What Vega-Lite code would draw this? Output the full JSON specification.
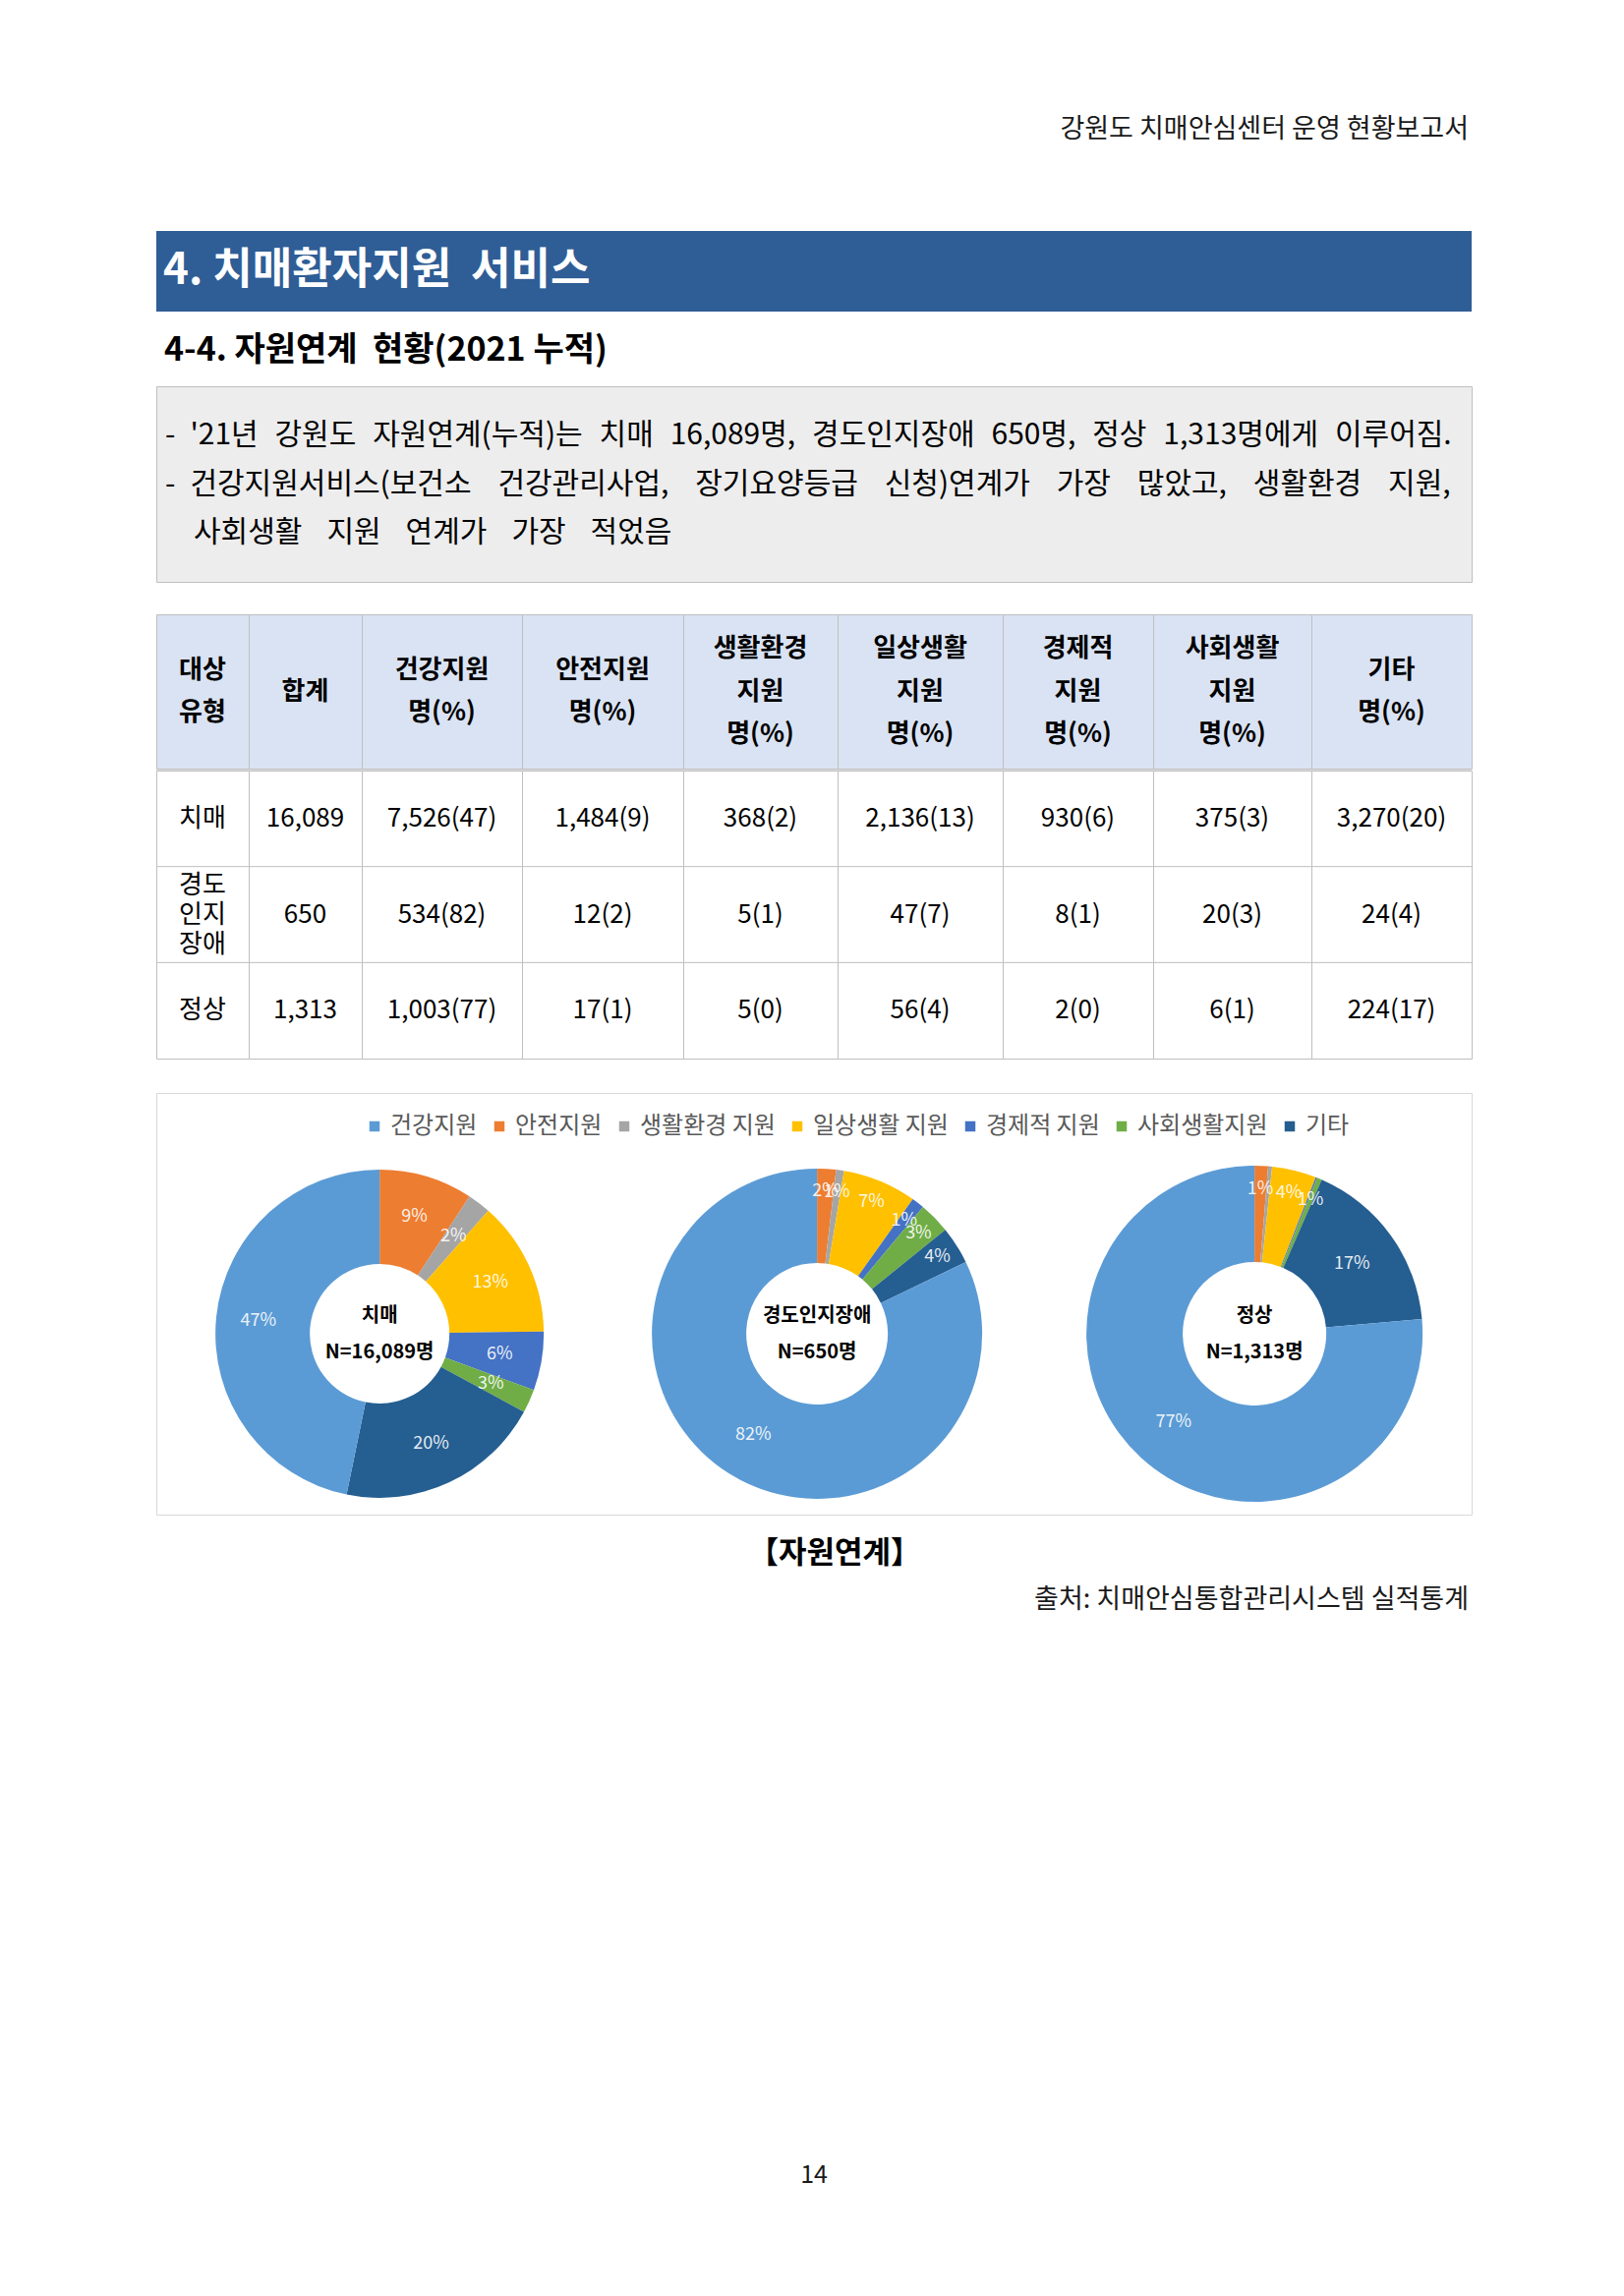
{
  "$schema": "https://vega.github.io/schema/vega-lite/v6.json",
  "background": "white",
  "padding": {"left": 158, "top": 0, "right": 0, "bottom": 96},
  "spacing": 0,
  "resolve": {"scale": {"color": "independent"}, "legend": {"color": "independent"}},
  "config": {
    "view": {"stroke": null},
    "font": "Noto Sans CJK KR",
    "text": {"font": "Noto Sans CJK KR", "color": "#000000"},
    "concat": {"spacing": 0}
  },
  "datasets": {
    "tbl": [
      {"type": "치매", "label": "치매", "total": "16,089", "health": "7,526(47)", "safety": "1,484(9)", "env": "368(2)", "daily": "2,136(13)", "econ": "930(6)", "social": "375(3)", "etc": "3,270(20)"},
      {"type": "경도인지장애", "label": "경도\n인지\n장애", "total": "650", "health": "534(82)", "safety": "12(2)", "env": "5(1)", "daily": "47(7)", "econ": "8(1)", "social": "20(3)", "etc": "24(4)"},
      {"type": "정상", "label": "정상", "total": "1,313", "health": "1,003(77)", "safety": "17(1)", "env": "5(0)", "daily": "56(4)", "econ": "2(0)", "social": "6(1)", "etc": "224(17)"}
    ],
    "pies": [
      {"chart": "치매", "item": "안전지원", "n": 1484, "ord": 1, "label": "9%"},
      {"chart": "치매", "item": "생활환경 지원", "n": 368, "ord": 2, "label": "2%"},
      {"chart": "치매", "item": "일상생활 지원", "n": 2136, "ord": 3, "label": "13%"},
      {"chart": "치매", "item": "경제적 지원", "n": 930, "ord": 4, "label": "6%"},
      {"chart": "치매", "item": "사회생활지원", "n": 375, "ord": 5, "label": "3%"},
      {"chart": "치매", "item": "기타", "n": 3270, "ord": 6, "label": "20%"},
      {"chart": "치매", "item": "건강지원", "n": 7526, "ord": 7, "label": "47%"},
      {"chart": "경도인지장애", "item": "안전지원", "n": 12, "ord": 1, "label": "2%"},
      {"chart": "경도인지장애", "item": "생활환경 지원", "n": 5, "ord": 2, "label": "1%"},
      {"chart": "경도인지장애", "item": "일상생활 지원", "n": 47, "ord": 3, "label": "7%"},
      {"chart": "경도인지장애", "item": "경제적 지원", "n": 8, "ord": 4, "label": "1%"},
      {"chart": "경도인지장애", "item": "사회생활지원", "n": 20, "ord": 5, "label": "3%"},
      {"chart": "경도인지장애", "item": "기타", "n": 24, "ord": 6, "label": "4%"},
      {"chart": "경도인지장애", "item": "건강지원", "n": 534, "ord": 7, "label": "82%"},
      {"chart": "정상", "item": "안전지원", "n": 17, "ord": 1, "label": "1%"},
      {"chart": "정상", "item": "생활환경 지원", "n": 5, "ord": 2, "label": ""},
      {"chart": "정상", "item": "일상생활 지원", "n": 56, "ord": 3, "label": "4%"},
      {"chart": "정상", "item": "경제적 지원", "n": 2, "ord": 4, "label": ""},
      {"chart": "정상", "item": "사회생활지원", "n": 6, "ord": 5, "label": "1%"},
      {"chart": "정상", "item": "기타", "n": 224, "ord": 6, "label": "17%"},
      {"chart": "정상", "item": "건강지원", "n": 1003, "ord": 7, "label": "77%"}
    ]
  },
  "vconcat": [
    {
      "width": 1338, "height": 235,
      "data": {"values": [{"t": "강원도 치매안심센터 운영 현황보고서"}]},
      "mark": {"type": "text", "align": "right", "fontSize": 27, "color": "#1a1a1a", "dx": -3, "dy": 14},
      "encoding": {"x": {"value": "width"}, "text": {"field": "t"}}
    },
    {
      "width": 1338, "height": 82,
      "view": {"fill": "#2F5D96", "stroke": null},
      "data": {"values": [{"t": "4. 치매환자지원\u00a0 서비스"}]},
      "mark": {"type": "text", "align": "left", "fontSize": 44, "fontWeight": "bold", "color": "#FFFFFF", "dx": 7},
      "encoding": {"x": {"value": 0}, "text": {"field": "t"}}
    },
    {
      "width": 1338, "height": 75,
      "data": {"values": [{"t": "4-4. 자원연계\u00a0 현황(2021 누적)"}]},
      "mark": {"type": "text", "align": "left", "fontSize": 34, "fontWeight": "bold", "color": "#000000", "dx": 8, "dy": 2},
      "encoding": {"x": {"value": 0}, "text": {"field": "t"}}
    },
    {
      "width": 1338, "height": 199,
      "view": {"fill": "#EDEDED", "stroke": "#BFBFBF"},
      "data": {"values": [
        {"line": 1, "t": "-\u2002'21년\u2002\u200A강원도\u2002\u200A자원연계(누적)는\u2002\u200A치매\u2002\u200A16,089명,\u2002\u200A경도인지장애\u2002\u200A650명,\u2002\u200A정상\u2002\u200A1,313명에게\u2002\u200A이루어짐."},
        {"line": 2, "t": "-\u2002건강지원서비스(보건소\u2002\u2004\u200A건강관리사업,\u2002\u2004\u200A장기요양등급\u2002\u2004\u200A신청)연계가\u2002\u2004\u200A가장\u2002\u2004\u200A많았고,\u2002\u2004\u200A생활환경\u2002\u2004\u200A지원,"},
        {"line": 3, "t": "사회생활\u2002\u2004지원\u2002\u2004연계가\u2002\u2004가장\u2002\u2004적었음"}
      ]},
      "layer": [
        {
          "transform": [{"filter": "datum.line < 3"}],
          "mark": {"type": "text", "align": "left", "fontSize": 30, "color": "#000000", "dx": 9},
          "encoding": {
            "x": {"value": 0},
            "y": {"field": "line", "type": "ordinal", "scale": {"type": "point", "padding": 1.01}, "axis": null},
            "text": {"field": "t"}
          }
        },
        {
          "transform": [{"filter": "datum.line === 3"}],
          "mark": {"type": "text", "align": "left", "fontSize": 30, "color": "#000000", "dx": 38},
          "encoding": {
            "x": {"value": 0},
            "y": {"field": "line", "type": "ordinal", "scale": {"type": "point", "padding": 1.01}, "axis": null},
            "text": {"field": "t"}
          }
        }
      ]
    },
    {"width": 1338, "height": 31, "data": {"values": []}, "mark": "point"},
    {
      "hconcat": [
        {"width": 94, "height": 157, "view": {"fill": "#DAE3F3", "stroke": "#BFBFBF"}, "data": {"values": [{"h": "대상\n유형"}]}, "mark": {"type": "text", "fontSize": 26, "fontWeight": "bold", "lineBreak": "\n", "lineHeight": 43, "dy": -21.5}, "encoding": {"text": {"field": "h"}}},
        {"width": 115, "height": 157, "view": {"fill": "#DAE3F3", "stroke": "#BFBFBF"}, "data": {"values": [{"h": "합계"}]}, "mark": {"type": "text", "fontSize": 26, "fontWeight": "bold"}, "encoding": {"text": {"field": "h"}}},
        {"width": 163, "height": 157, "view": {"fill": "#DAE3F3", "stroke": "#BFBFBF"}, "data": {"values": [{"h": "건강지원\n명(%)"}]}, "mark": {"type": "text", "fontSize": 26, "fontWeight": "bold", "lineBreak": "\n", "lineHeight": 43, "dy": -21.5}, "encoding": {"text": {"field": "h"}}},
        {"width": 164, "height": 157, "view": {"fill": "#DAE3F3", "stroke": "#BFBFBF"}, "data": {"values": [{"h": "안전지원\n명(%)"}]}, "mark": {"type": "text", "fontSize": 26, "fontWeight": "bold", "lineBreak": "\n", "lineHeight": 43, "dy": -21.5}, "encoding": {"text": {"field": "h"}}},
        {"width": 157, "height": 157, "view": {"fill": "#DAE3F3", "stroke": "#BFBFBF"}, "data": {"values": [{"h": "생활환경\n지원\n명(%)"}]}, "mark": {"type": "text", "fontSize": 26, "fontWeight": "bold", "lineBreak": "\n", "lineHeight": 43.5, "dy": -43.5}, "encoding": {"text": {"field": "h"}}},
        {"width": 168, "height": 157, "view": {"fill": "#DAE3F3", "stroke": "#BFBFBF"}, "data": {"values": [{"h": "일상생활\n지원\n명(%)"}]}, "mark": {"type": "text", "fontSize": 26, "fontWeight": "bold", "lineBreak": "\n", "lineHeight": 43.5, "dy": -43.5}, "encoding": {"text": {"field": "h"}}},
        {"width": 153, "height": 157, "view": {"fill": "#DAE3F3", "stroke": "#BFBFBF"}, "data": {"values": [{"h": "경제적\n지원\n명(%)"}]}, "mark": {"type": "text", "fontSize": 26, "fontWeight": "bold", "lineBreak": "\n", "lineHeight": 43.5, "dy": -43.5}, "encoding": {"text": {"field": "h"}}},
        {"width": 161, "height": 157, "view": {"fill": "#DAE3F3", "stroke": "#BFBFBF"}, "data": {"values": [{"h": "사회생활\n지원\n명(%)"}]}, "mark": {"type": "text", "fontSize": 26, "fontWeight": "bold", "lineBreak": "\n", "lineHeight": 43.5, "dy": -43.5}, "encoding": {"text": {"field": "h"}}},
        {"width": 163, "height": 157, "view": {"fill": "#DAE3F3", "stroke": "#BFBFBF"}, "data": {"values": [{"h": "기타\n명(%)"}]}, "mark": {"type": "text", "fontSize": 26, "fontWeight": "bold", "lineBreak": "\n", "lineHeight": 43, "dy": -21.5}, "encoding": {"text": {"field": "h"}}}
      ],
      "spacing": 0, "bounds": "flush"
    },
    {
      "hconcat": [
        {"width": 94, "height": 293, "view": {"fill": "white", "stroke": "#BFBFBF"}, "data": {"name": "tbl"}, "layer": [
          {"mark": {"type": "rule", "color": "#BFBFBF"}, "encoding": {"y": {"field": "type", "type": "nominal", "bandPosition": 0, "scale": {"type": "band", "domain": ["치매", "경도인지장애", "정상"], "padding": 0}, "axis": null}}},
          {"mark": {"type": "text", "fontSize": 26, "lineBreak": "\n", "lineHeight": 30, "dy": {"expr": "datum.type === '경도인지장애' ? -30 : 0"}}, "encoding": {"y": {"field": "type", "type": "nominal", "scale": {"type": "band", "domain": ["치매", "경도인지장애", "정상"], "padding": 0}, "axis": null}, "text": {"field": "label"}}}
        ]},
        {"width": 115, "height": 293, "view": {"fill": "white", "stroke": "#BFBFBF"}, "data": {"name": "tbl"}, "layer": [
          {"mark": {"type": "rule", "color": "#BFBFBF"}, "encoding": {"y": {"field": "type", "type": "nominal", "bandPosition": 0, "scale": {"type": "band", "domain": ["치매", "경도인지장애", "정상"], "padding": 0}, "axis": null}}},
          {"mark": {"type": "text", "fontSize": 26}, "encoding": {"y": {"field": "type", "type": "nominal", "scale": {"type": "band", "domain": ["치매", "경도인지장애", "정상"], "padding": 0}, "axis": null}, "text": {"field": "total"}}}
        ]},
        {"width": 163, "height": 293, "view": {"fill": "white", "stroke": "#BFBFBF"}, "data": {"name": "tbl"}, "layer": [
          {"mark": {"type": "rule", "color": "#BFBFBF"}, "encoding": {"y": {"field": "type", "type": "nominal", "bandPosition": 0, "scale": {"type": "band", "domain": ["치매", "경도인지장애", "정상"], "padding": 0}, "axis": null}}},
          {"mark": {"type": "text", "fontSize": 26}, "encoding": {"y": {"field": "type", "type": "nominal", "scale": {"type": "band", "domain": ["치매", "경도인지장애", "정상"], "padding": 0}, "axis": null}, "text": {"field": "health"}}}
        ]},
        {"width": 164, "height": 293, "view": {"fill": "white", "stroke": "#BFBFBF"}, "data": {"name": "tbl"}, "layer": [
          {"mark": {"type": "rule", "color": "#BFBFBF"}, "encoding": {"y": {"field": "type", "type": "nominal", "bandPosition": 0, "scale": {"type": "band", "domain": ["치매", "경도인지장애", "정상"], "padding": 0}, "axis": null}}},
          {"mark": {"type": "text", "fontSize": 26}, "encoding": {"y": {"field": "type", "type": "nominal", "scale": {"type": "band", "domain": ["치매", "경도인지장애", "정상"], "padding": 0}, "axis": null}, "text": {"field": "safety"}}}
        ]},
        {"width": 157, "height": 293, "view": {"fill": "white", "stroke": "#BFBFBF"}, "data": {"name": "tbl"}, "layer": [
          {"mark": {"type": "rule", "color": "#BFBFBF"}, "encoding": {"y": {"field": "type", "type": "nominal", "bandPosition": 0, "scale": {"type": "band", "domain": ["치매", "경도인지장애", "정상"], "padding": 0}, "axis": null}}},
          {"mark": {"type": "text", "fontSize": 26}, "encoding": {"y": {"field": "type", "type": "nominal", "scale": {"type": "band", "domain": ["치매", "경도인지장애", "정상"], "padding": 0}, "axis": null}, "text": {"field": "env"}}}
        ]},
        {"width": 168, "height": 293, "view": {"fill": "white", "stroke": "#BFBFBF"}, "data": {"name": "tbl"}, "layer": [
          {"mark": {"type": "rule", "color": "#BFBFBF"}, "encoding": {"y": {"field": "type", "type": "nominal", "bandPosition": 0, "scale": {"type": "band", "domain": ["치매", "경도인지장애", "정상"], "padding": 0}, "axis": null}}},
          {"mark": {"type": "text", "fontSize": 26}, "encoding": {"y": {"field": "type", "type": "nominal", "scale": {"type": "band", "domain": ["치매", "경도인지장애", "정상"], "padding": 0}, "axis": null}, "text": {"field": "daily"}}}
        ]},
        {"width": 153, "height": 293, "view": {"fill": "white", "stroke": "#BFBFBF"}, "data": {"name": "tbl"}, "layer": [
          {"mark": {"type": "rule", "color": "#BFBFBF"}, "encoding": {"y": {"field": "type", "type": "nominal", "bandPosition": 0, "scale": {"type": "band", "domain": ["치매", "경도인지장애", "정상"], "padding": 0}, "axis": null}}},
          {"mark": {"type": "text", "fontSize": 26}, "encoding": {"y": {"field": "type", "type": "nominal", "scale": {"type": "band", "domain": ["치매", "경도인지장애", "정상"], "padding": 0}, "axis": null}, "text": {"field": "econ"}}}
        ]},
        {"width": 161, "height": 293, "view": {"fill": "white", "stroke": "#BFBFBF"}, "data": {"name": "tbl"}, "layer": [
          {"mark": {"type": "rule", "color": "#BFBFBF"}, "encoding": {"y": {"field": "type", "type": "nominal", "bandPosition": 0, "scale": {"type": "band", "domain": ["치매", "경도인지장애", "정상"], "padding": 0}, "axis": null}}},
          {"mark": {"type": "text", "fontSize": 26}, "encoding": {"y": {"field": "type", "type": "nominal", "scale": {"type": "band", "domain": ["치매", "경도인지장애", "정상"], "padding": 0}, "axis": null}, "text": {"field": "social"}}}
        ]},
        {"width": 163, "height": 293, "view": {"fill": "white", "stroke": "#BFBFBF"}, "data": {"name": "tbl"}, "layer": [
          {"mark": {"type": "rule", "color": "#BFBFBF"}, "encoding": {"y": {"field": "type", "type": "nominal", "bandPosition": 0, "scale": {"type": "band", "domain": ["치매", "경도인지장애", "정상"], "padding": 0}, "axis": null}}},
          {"mark": {"type": "text", "fontSize": 26}, "encoding": {"y": {"field": "type", "type": "nominal", "scale": {"type": "band", "domain": ["치매", "경도인지장애", "정상"], "padding": 0}, "axis": null}, "text": {"field": "etc"}}}
        ]}
      ],
      "spacing": 0, "bounds": "flush"
    },
    {"width": 1338, "height": 33, "data": {"values": []}, "mark": "point"},
    {
      "width": 1338, "height": 429,
      "view": {"fill": "white", "stroke": "#D9D9D9"},
      "resolve": {"scale": {"theta": "independent"}},
      "layer": [
        {
          "data": {"name": "pies"},
          "transform": [{"filter": "datum.chart === '치매'"}],
          "mark": {"type": "arc", "innerRadius": 71, "outerRadius": 167},
          "encoding": {
            "x": {"field": "chart", "type": "nominal", "scale": {"type": "point", "domain": ["치매", "경도인지장애", "정상"], "padding": 0.5034, "align": 0.507}, "axis": null},
            "y": {"datum": "pie", "type": "nominal", "scale": {"type": "point", "padding": 0, "align": 0.571}, "axis": null},
            "theta": {"field": "n", "type": "quantitative", "stack": true},
            "order": {"field": "ord", "type": "quantitative"},
            "color": {"field": "item", "type": "nominal",
              "scale": {"domain": ["건강지원", "안전지원", "생활환경 지원", "일상생활 지원", "경제적 지원", "사회생활지원", "기타"], "range": ["#5B9BD5", "#ED7D31", "#A5A5A5", "#FFC000", "#4472C4", "#70AD47", "#255E91"]},
              "legend": {"title": null, "orient": "none", "legendX": 210, "legendY": 22, "direction": "horizontal", "columns": 7, "symbolType": "square", "symbolSize": 110, "symbolStrokeWidth": 0, "labelFontSize": 24, "labelColor": "#595959", "labelFont": "Noto Sans CJK KR", "columnPadding": 10, "labelOffset": 4}}
          }
        },
        {
          "data": {"name": "pies"},
          "transform": [{"filter": "datum.chart === '치매'"}],
          "mark": {"type": "text", "radius": 124, "fontSize": 18, "fill": "#FFFFFF", "fillOpacity": 0.9},
          "encoding": {
            "x": {"field": "chart", "type": "nominal", "scale": {"type": "point", "domain": ["치매", "경도인지장애", "정상"], "padding": 0.5034, "align": 0.507}, "axis": null},
            "y": {"datum": "pie", "type": "nominal", "scale": {"type": "point", "padding": 0, "align": 0.571}, "axis": null},
            "theta": {"field": "n", "type": "quantitative", "stack": true},
            "order": {"field": "ord", "type": "quantitative"},
            "detail": {"field": "item", "type": "nominal"},
            "text": {"field": "label"}
          }
        },
        {
          "data": {"name": "pies"},
          "transform": [{"filter": "datum.chart === '경도인지장애'"}],
          "mark": {"type": "arc", "innerRadius": 72, "outerRadius": 168},
          "encoding": {
            "x": {"field": "chart", "type": "nominal", "scale": {"type": "point", "domain": ["치매", "경도인지장애", "정상"], "padding": 0.5034, "align": 0.507}, "axis": null},
            "y": {"datum": "pie", "type": "nominal", "scale": {"type": "point", "padding": 0, "align": 0.571}, "axis": null},
            "theta": {"field": "n", "type": "quantitative", "stack": true},
            "order": {"field": "ord", "type": "quantitative"},
            "color": {"field": "item", "type": "nominal",
              "scale": {"domain": ["건강지원", "안전지원", "생활환경 지원", "일상생활 지원", "경제적 지원", "사회생활지원", "기타"], "range": ["#5B9BD5", "#ED7D31", "#A5A5A5", "#FFC000", "#4472C4", "#70AD47", "#255E91"]},
              "legend": {"title": null, "orient": "none", "legendX": 210, "legendY": 22, "direction": "horizontal", "columns": 7, "symbolType": "square", "symbolSize": 110, "symbolStrokeWidth": 0, "labelFontSize": 24, "labelColor": "#595959", "labelFont": "Noto Sans CJK KR", "columnPadding": 10, "labelOffset": 4}}
          }
        },
        {
          "data": {"name": "pies"},
          "transform": [{"filter": "datum.chart === '경도인지장애'"}],
          "mark": {"type": "text", "radius": {"expr": "toNumber(replace(datum.label, '%', '')) < 10 ? 145 : 122"}, "fontSize": 18, "fill": "#FFFFFF", "fillOpacity": 0.9},
          "encoding": {
            "x": {"field": "chart", "type": "nominal", "scale": {"type": "point", "domain": ["치매", "경도인지장애", "정상"], "padding": 0.5034, "align": 0.507}, "axis": null},
            "y": {"datum": "pie", "type": "nominal", "scale": {"type": "point", "padding": 0, "align": 0.571}, "axis": null},
            "theta": {"field": "n", "type": "quantitative", "stack": true},
            "order": {"field": "ord", "type": "quantitative"},
            "detail": {"field": "item", "type": "nominal"},
            "text": {"field": "label"}
          }
        },
        {
          "data": {"name": "pies"},
          "transform": [{"filter": "datum.chart === '정상'"}],
          "mark": {"type": "arc", "innerRadius": 73, "outerRadius": 171},
          "encoding": {
            "x": {"field": "chart", "type": "nominal", "scale": {"type": "point", "domain": ["치매", "경도인지장애", "정상"], "padding": 0.5034, "align": 0.507}, "axis": null},
            "y": {"datum": "pie", "type": "nominal", "scale": {"type": "point", "padding": 0, "align": 0.571}, "axis": null},
            "theta": {"field": "n", "type": "quantitative", "stack": true},
            "order": {"field": "ord", "type": "quantitative"},
            "color": {"field": "item", "type": "nominal",
              "scale": {"domain": ["건강지원", "안전지원", "생활환경 지원", "일상생활 지원", "경제적 지원", "사회생활지원", "기타"], "range": ["#5B9BD5", "#ED7D31", "#A5A5A5", "#FFC000", "#4472C4", "#70AD47", "#255E91"]},
              "legend": {"title": null, "orient": "none", "legendX": 210, "legendY": 22, "direction": "horizontal", "columns": 7, "symbolType": "square", "symbolSize": 110, "symbolStrokeWidth": 0, "labelFontSize": 24, "labelColor": "#595959", "labelFont": "Noto Sans CJK KR", "columnPadding": 10, "labelOffset": 4}}
          }
        },
        {
          "data": {"name": "pies"},
          "transform": [{"filter": "datum.chart === '정상'"}],
          "mark": {"type": "text", "radius": {"expr": "toNumber(replace(datum.label, '%', '')) < 10 ? 147 : 122"}, "fontSize": 18, "fill": "#FFFFFF", "fillOpacity": 0.9},
          "encoding": {
            "x": {"field": "chart", "type": "nominal", "scale": {"type": "point", "domain": ["치매", "경도인지장애", "정상"], "padding": 0.5034, "align": 0.507}, "axis": null},
            "y": {"datum": "pie", "type": "nominal", "scale": {"type": "point", "padding": 0, "align": 0.571}, "axis": null},
            "theta": {"field": "n", "type": "quantitative", "stack": true},
            "order": {"field": "ord", "type": "quantitative"},
            "detail": {"field": "item", "type": "nominal"},
            "text": {"field": "label"}
          }
        },
        {
          "data": {"values": [
            {"chart": "치매", "c": "치매\nN=16,089명"},
            {"chart": "경도인지장애", "c": "경도인지장애\nN=650명"},
            {"chart": "정상", "c": "정상\nN=1,313명"}
          ]},
          "mark": {"type": "text", "fontSize": 20, "fontWeight": "bold", "lineBreak": "\n", "lineHeight": 37, "dy": -18, "color": "#000000"},
          "encoding": {
            "x": {"field": "chart", "type": "nominal", "scale": {"type": "point", "domain": ["치매", "경도인지장애", "정상"], "padding": 0.5034, "align": 0.507}, "axis": null},
            "y": {"datum": "pie", "type": "nominal", "scale": {"type": "point", "padding": 0, "align": 0.571}, "axis": null},
            "text": {"field": "c"}
          }
        }
      ]
    },
    {
      "width": 1380, "height": 70,
      "data": {"values": [{"t": "【자원연계】"}]},
      "mark": {"type": "text", "fontSize": 31, "fontWeight": "bold", "color": "#000000", "dy": 4},
      "encoding": {"text": {"field": "t"}}
    },
    {
      "width": 1338, "height": 32,
      "data": {"values": [{"t": "출처: 치매안심통합관리시스템 실적통계"}]},
      "mark": {"type": "text", "align": "right", "fontSize": 27, "color": "#1a1a1a", "dx": -3},
      "encoding": {"x": {"value": "width"}, "text": {"field": "t"}}
    },
    {"width": 1494, "height": 534, "data": {"values": []}, "mark": "point"},
    {
      "width": 1338, "height": 70,
      "data": {"values": [{"t": "14"}]},
      "mark": {"type": "text", "fontSize": 25, "color": "#1a1a1a"},
      "encoding": {"text": {"field": "t"}}
    }
  ]
}
